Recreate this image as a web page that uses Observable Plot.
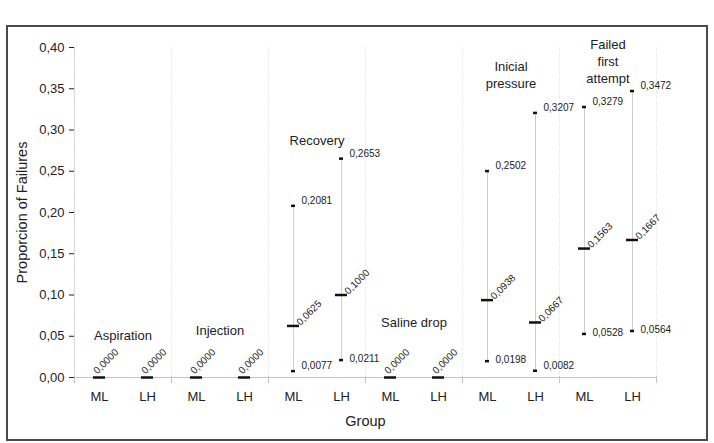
<!DOCTYPE html>
<html>
<head>
<meta charset="utf-8">
<script src="https://cdn.jsdelivr.net/npm/d3@7"></script>
<script src="https://cdn.jsdelivr.net/npm/@observablehq/plot@0.6"></script>
<style>
  body { margin: 0; background: #fff; }
  #wrap { position: relative; width: 714px; height: 443px; }
  #wrap svg { position: absolute; left: 0; top: 0; }
  #border { position: absolute; left: 6px; top: 25px; width: 702px; height: 416px; box-sizing: border-box; border: 2px solid #4a4a4a; pointer-events: none; }
  [aria-label="y-axis tick"] { stroke: #bdbdbd; }
  [aria-label="y-axis label"], [aria-label="fx-axis label"] { font-size: 14.5px; }
</style>
</head>
<body>
<div id="wrap"><div id="border"></div></div>
<script>
// ---- data ----
const groups = ["Aspiration", "Injection", "Recovery", "Saline drop", "Inicial pressure", "Failed first attempt"];
const groupText = ["Aspiration", "Injection", "Recovery", "Saline drop", "Inicial\npressure", "Failed\nfirst\nattempt"];
const groupLabelY = [0.052, 0.058, 0.2885, 0.068, 0.368, 0.384];
const arms = ["ML", "LH"];
// order: for each group, ML then LH
const means = [0.0000, 0.0000, 0.0000, 0.0000, 0.0625, 0.1000, 0.0000, 0.0000, 0.0938, 0.0667, 0.1563, 0.1667];
const lower = [null, null, null, null, 0.0077, 0.0211, null, null, 0.0198, 0.0082, 0.0528, 0.0564];
const upper = [null, null, null, null, 0.2081, 0.2653, null, null, 0.2502, 0.3207, 0.3279, 0.3472];
const yTicks = [0, 0.05, 0.10, 0.15, 0.20, 0.25, 0.30, 0.35, 0.40];

// ---- tables ----
const rows = means.map((m, i) => ({
  group: groups[Math.floor(i / 2)],
  arm: arms[i % 2],
  mean: m,
  lo: lower[i],
  hi: upper[i]
}));
const ci = rows.filter(d => d.lo != null);
const labels = groups.map((g, i) => ({group: g, text: groupText[i], y: groupLabelY[i]}));

const comma = f => v => d3.format(f)(v).replace(".", ",");
const fmt4 = comma(".4f");
const fmt2 = comma(".2f");

const W = 714, H = 443, ML = 73, MR = 57, MT = 47, MB = 66;
const facetW = (W - ML - MR) / groups.length;
const plotH = H - MT - MB;

const chart = Plot.plot({
  width: W,
  height: H,
  marginLeft: ML,
  marginRight: MR,
  marginTop: MT,
  marginBottom: MB,
  style: {fontFamily: "'Liberation Sans', Arial, sans-serif", fontSize: "13px", color: "#222", background: "transparent"},
  fx: {domain: groups, padding: 0, axis: "bottom", tickSize: 0, tickFormat: () => "", label: "Group", labelAnchor: "center", labelOffset: 48},
  x: {domain: arms, padding: 0, tickSize: 0, tickPadding: 14, label: null},
  y: {domain: [0, 0.4], ticks: yTicks, tickFormat: fmt2, tickSize: 5, tickPadding: 5, label: "Proporcion of Failures", labelArrow: "none", labelAnchor: "center", labelOffset: 58},
  marks: [
    // faint group separators
    Plot.frame({anchor: "left", stroke: "#ececec", strokeDasharray: "3,3"}),
    Plot.frame({anchor: "right", stroke: "#ececec", strokeDasharray: "3,3"}),
    // small ticks below the axis at group boundaries
    Plot.frame({anchor: "left", stroke: "#c4c4c4", insetTop: plotH - 1, insetBottom: -5}),
    Plot.frame({anchor: "right", stroke: "#c4c4c4", insetTop: plotH - 1, insetBottom: -5}),
    // y axis line
    Plot.rect([{group: groups[0]}], {fx: "group", y1: 0, y2: 0.4, fill: "#cdcdcd", insetRight: facetW - 1}),
    Plot.ruleY([0], {stroke: "#c4c4c4"}),
    Plot.ruleX(ci, {fx: "group", x: "arm", y1: "lo", y2: "hi", stroke: "#cfcfcf", strokeWidth: 1}),
    Plot.tickY(ci, {fx: "group", x: "arm", y: "lo", stroke: "#111", strokeWidth: 2.5, insetLeft: 22, insetRight: 22}),
    Plot.tickY(ci, {fx: "group", x: "arm", y: "hi", stroke: "#111", strokeWidth: 2.5, insetLeft: 22, insetRight: 22}),
    Plot.tickY(rows, {fx: "group", x: "arm", y: "mean", stroke: "#111", strokeWidth: 2.5, insetLeft: 18, insetRight: 18}),
    Plot.text(ci, {fx: "group", x: "arm", y: "hi", text: d => fmt4(d.hi), textAnchor: "start", dx: 8, dy: -5, fontSize: 10, fill: "#222"}),
    Plot.text(ci.filter(d => d.lo >= 0.015), {fx: "group", x: "arm", y: "lo", text: d => fmt4(d.lo), textAnchor: "start", dx: 8, dy: -1, fontSize: 10, fill: "#222"}),
    Plot.text(ci.filter(d => d.lo < 0.015), {fx: "group", x: "arm", y: "lo", text: d => fmt4(d.lo), textAnchor: "start", dx: 8, dy: -5, fontSize: 10, fill: "#222"}),
    Plot.text(rows.filter(d => d.mean > 0), {fx: "group", x: "arm", y: "mean", text: d => fmt4(d.mean), rotate: -45, textAnchor: "start", lineAnchor: "bottom", dx: 7, dy: 0, fontSize: 10, fill: "#222"}),
    Plot.text(rows.filter(d => d.mean === 0), {fx: "group", x: "arm", y: "mean", text: d => fmt4(d.mean), rotate: -45, textAnchor: "start", lineAnchor: "bottom", dx: -2, dy: -3, fontSize: 10, fill: "#222"}),
    Plot.text(labels, {fx: "group", y: "y", text: "text", fontSize: 13, lineHeight: 1.3, fill: "#222"})
  ]
});
document.getElementById("wrap").prepend(chart);
</script>
</body>
</html>
